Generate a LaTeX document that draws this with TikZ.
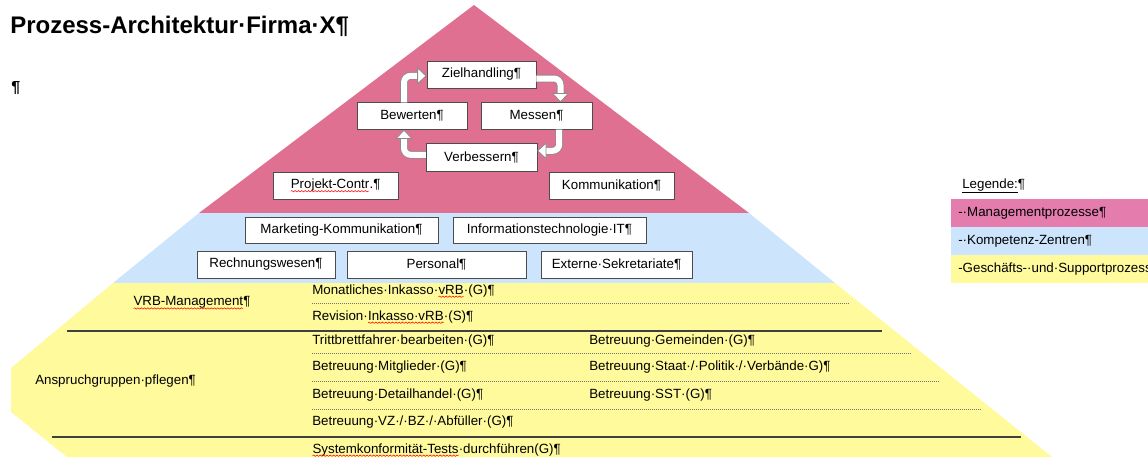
\documentclass[tikz,border=0pt]{standalone}
\usepackage{fontspec}
\setmainfont{Liberation Sans}
\usepackage{tikz}
\usetikzlibrary{arrows.meta, decorations.pathmorphing}
\definecolor{mgmtpink}{HTML}{E07092}
\definecolor{legpink}{HTML}{E47CAE}
\definecolor{kzblue}{HTML}{CCE5FC}
\definecolor{gsyellow}{HTML}{FFFA9C}
% red spell-check wave under a word
\newcommand{\spellmark}[1]{\tikz[baseline = (sw.base)]{\node[draw = none, fill = none, minimum width = 0pt, minimum height = 0pt, inner sep = 0pt, outer sep = 0pt, anchor = center] (sw) {#1}; \draw[red, line width = 0.4pt, decorate, decoration = {snake, amplitude = 0.5pt, segment length = 2.5pt}] ([yshift = -2pt]sw.base west) -- ([yshift = -2pt]sw.base east);}}
\tikzstyle{proc} = [
    rectangle,
    draw = black!70,
    fill = white,
    text centered,
    inner sep = 0pt,
    minimum height = 20pt,
    font = \fontsize{10}{12}\selectfont
]
\tikzstyle{row} = [anchor = west, inner sep = 0pt, font = \fontsize{10}{12}\selectfont]
\tikzstyle{cyc} = [
    draw = black!45,
    double = white,
    double distance = 4.5pt,
    line width = 0.6pt,
    rounded corners = 5pt,
    -{Triangle[width = 13pt, length = 7pt, fill = white]}
]
\tikzstyle{sep} = [black!75, line width = 1pt]
\tikzstyle{dots} = [black!55, densely dotted, line width = 0.5pt]

\begin{document}
\begin{tikzpicture}[x = 0.75pt, y = -0.75pt]
    \useasboundingbox (0,0) rectangle (1148,457);
    % pyramid bands
    \fill[mgmtpink] (474,5) -- (749,213) -- (199,213) -- cycle;
    \fill[kzblue] (199,213) -- (749,213) -- (835,283) -- (113,283) -- cycle;
    \fill[gsyellow] (113,283) -- (835,283) -- (1052,457) -- (67,457) -- (11,412) -- (11,368) -- cycle;

    \node[anchor = west, inner sep = 0pt, font = \fontsize{18}{22}\selectfont\bfseries] (title) at (10,26) {Prozess-Architektur·Firma·X¶};
    \node[anchor = west, inner sep = 0pt, font = \fontsize{12}{14}\selectfont\bfseries] (para) at (11,88) {¶};

    % management processes
    \node[proc, minimum width = 82pt] (ziel) at (481.5,74.5) {Zielhandling¶};
    \node[proc, minimum width = 82.5pt] (bew) at (412,116) {Bewerten¶};
    \node[proc, minimum width = 83pt] (mess) at (536.5,116) {Messen¶};
    \node[proc, minimum width = 83pt, minimum height = 21pt] (verb) at (481.5,157.5) {Verbessern¶};
    \node[proc, minimum width = 93.75pt] (proj) at (335.5,185.5) {\spellmark{Projekt-Contr}.¶};
    \node[proc, minimum width = 93.75pt] (komm) at (611.5,185.5) {Kommunikation¶};

    \draw[cyc] ([xshift = -6pt]bew.north) |- ([yshift = -1pt]ziel.west);
    \draw[cyc] ([yshift = -3pt]ziel.east) -| ([xshift = 18pt]mess.north);
    \draw[cyc] ([xshift = 17pt]mess.south) |- ([yshift = 5pt]verb.east);
    \draw[cyc] ([yshift = 2pt]verb.west) -| ([xshift = -6pt]bew.south);

    % competence centres
    \node[proc, minimum width = 144.75pt, minimum height = 19.5pt] (mark) at (341.5,230.5) {Marketing-Kommunikation¶};
    \node[proc, minimum width = 144.75pt, minimum height = 19.5pt] (info) at (549.5,230.5) {Informationstechnologie·IT¶};
    \node[proc, minimum width = 103.5pt] (rech) at (266,264.5) {Rechnungswesen¶};
    \node[proc, minimum width = 134.25pt] (pers) at (436.5,264.5) {Personal¶};
    \node[proc, minimum width = 113.25pt] (ext) at (616.5,264.5) {Externe·Sekretariate¶};

    % business and support processes
    \node[row] (vrb) at (133,303) {\spellmark{VRB-Management}¶};
    \node[row] (inkasso) at (312,291) {Monatliches·Inkasso·\spellmark{vRB}·(G)¶};
    \node[row] (revision) at (312,317) {Revision·\spellmark{Inkasso·vRB}·(S)¶};
    \node[row] (anspr) at (35,381) {Anspruchgruppen·pflegen¶};
    \node[row] (tritt) at (312,341) {Trittbrettfahrer·bearbeiten·(G)¶};
    \node[row] (mitgl) at (312,367) {Betreuung·Mitglieder·(G)¶};
    \node[row] (detail) at (312,395) {Betreuung·Detailhandel·(G)¶};
    \node[row] (vz) at (312,422) {Betreuung·VZ·/·BZ·/·Abfüller·(G)¶};
    \node[row] (gem) at (589,341) {Betreuung·Gemeinden·(G)¶};
    \node[row] (staat) at (589,367) {Betreuung·Staat·/·Politik·/·Verbände·G)¶};
    \node[row] (sst) at (589,395) {Betreuung·SST·(G)¶};
    \node[row] (system) at (312,450) {\spellmark{Systemkonformität-Tests}·durchführen(G)¶};

    \draw[dots] (312,303) -- (850,303);
    \draw[sep] (67,331) -- (882,331);
    \draw[dots] (312,353) -- (911,353);
    \draw[dots] (312,381) -- (940,381);
    \draw[dots] (312,409) -- (981,409);
    \draw[sep] (52,437) -- (1021,437);

    % legend
    \node[row] (legende) at (962,186) {\underline{Legende:}¶};
    \begin{scope}
        \clip (940,190) rectangle (1148,290);
        \fill[legpink] (951,199) rectangle (1160,227);
        \fill[kzblue] (951,227) rectangle (1160,255);
        \fill[gsyellow] (951,255) rectangle (1160,283);
        \node[row] (legm) at (958,213) {-·Managementprozesse¶};
        \node[row] (legk) at (958,241) {-·Kompetenz-Zentren¶};
        \node[row] (legg) at (958,269) {-Geschäfts-·und·Supportprozesse¶};
    \end{scope}
\end{tikzpicture}
\end{document}
